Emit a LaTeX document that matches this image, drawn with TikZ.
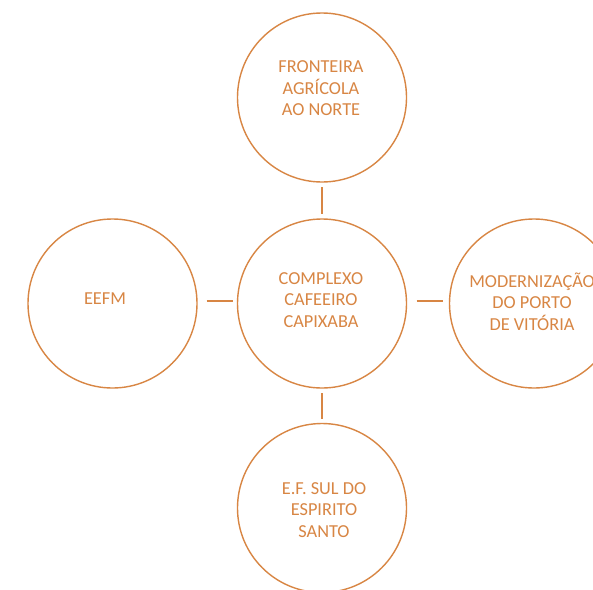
\documentclass[tikz,border=0pt]{standalone}
\usepackage{fontspec}
\setmainfont{Carlito}
\definecolor{ochre}{RGB}{216,134,68}
\begin{document}
\begin{tikzpicture}[x=1pt,y=-1pt,
  bubble/.style={circle,draw=ochre,line width=1.4pt,minimum size=169pt,inner sep=0pt,outer sep=0pt},
  lbl/.style={text=ochre,align=center,font=\fontsize{18.3}{21.5}\selectfont,inner sep=0pt},
  link/.style={draw=ochre,line width=1.4pt}]
\clip (0,0) rectangle (593,589);
\fill[white] (0,0) rectangle (593,589);
\node[bubble] (top) at (322,97.5) {};
\node[bubble] (ctr) at (322,303.5) {};
\node[bubble] (lft) at (112.5,303.5) {};
\node[bubble] (rgt) at (534,303.5) {};
\node[bubble] (bot) at (322,508) {};
\node[lbl] (ttop) at (321,88.5) {FRONTEIRA\\AGRÍCOLA\\AO NORTE};
\node[lbl] (tctr) at (321,300) {COMPLEXO\\CAFEEIRO\\CAPIXABA};
\node[lbl] (tlft) at (105,299) {EEFM};
\node[lbl] (trgt) at (532,301.5) {MODERNIZAÇÃO\\DO PORTO\\DE VITÓRIA};
\node[lbl] (tbot) at (324,510) {E.F. SUL DO\\ESPIRITO\\SANTO};
\draw[link,shorten <=5.3pt,shorten >=5pt] (top) -- (ctr);
\draw[link,transform canvas={yshift=2.5pt},shorten <=9.7pt,shorten >=4.2pt] (lft) -- (ctr);
\draw[link,transform canvas={yshift=2.5pt},shorten <=10.2pt,shorten >=6.2pt] (ctr) -- (rgt);
\draw[link,shorten <=5.3pt,shorten >=4.2pt] (ctr) -- (bot);
\end{tikzpicture}
\end{document}
